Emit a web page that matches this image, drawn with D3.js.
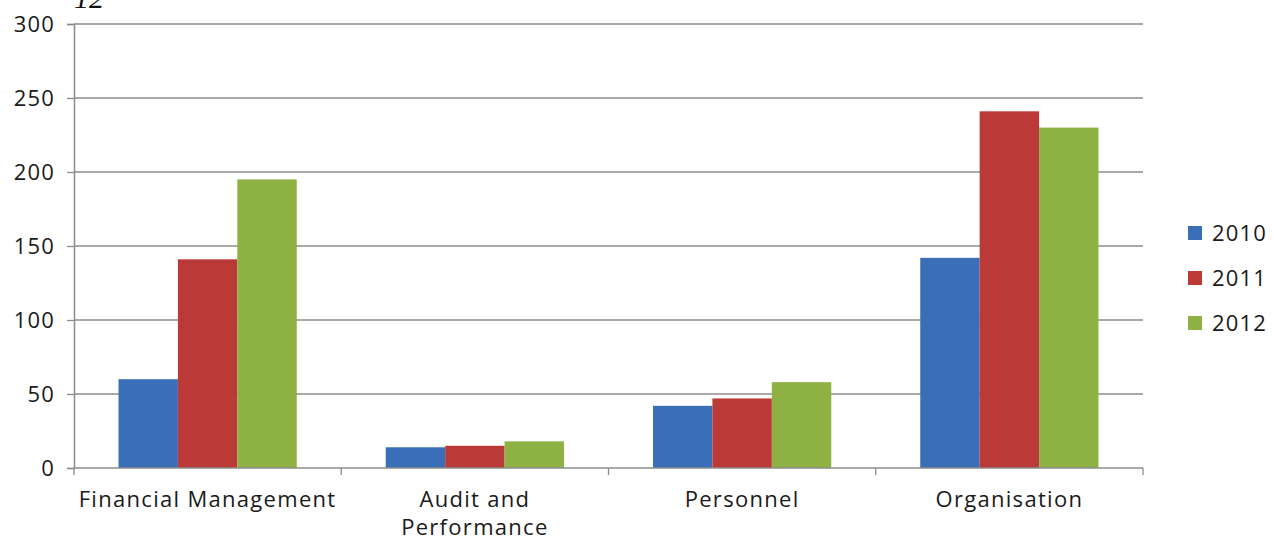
<!DOCTYPE html>
<html><head><meta charset="utf-8">
<script src="https://cdnjs.cloudflare.com/ajax/libs/d3/7.8.5/d3.min.js"></script>
<style>body{margin:0;background:#fff}svg{display:block}</style>
</head><body>
<svg id="c" width="1273" height="540"></svg>
<script>
const categories = ["Financial Management", "Audit and Performance", "Personnel", "Organisation"];
const categoryLines = [["Financial Management"], ["Audit and", "Performance"], ["Personnel"], ["Organisation"]];
const seriesNames = ["2010", "2011", "2012"];
const values2010 = [60, 14, 42, 142];
const values2011 = [141, 15, 47, 241];
const values2012 = [195, 18, 58, 230];
const yTicks = [0, 50, 100, 150, 200, 250, 300];
const colors = ["#3a6fb7", "#bb3936", "#8db243"];
const series = [values2010, values2011, values2012];

const svg = d3.select("#c");
const m = {l: 74, r: 1143, t: 24, b: 468};
const font = "'Open Sans', sans-serif";
const txt = "#1a1a1a";

svg.append("text").attr("x", 74).attr("y", 8)
  .attr("font-family", "'Liberation Serif', serif").attr("font-style", "italic")
  .attr("font-size", 30).attr("fill", "#111").text("12");

const x0 = d3.scaleBand().domain(categories).range([m.l, m.r]).paddingInner(0.333).paddingOuter(0.1665);
const xOuter = d3.scaleBand().domain(categories).range([m.l, m.r]);
const x1 = d3.scaleBand().domain(seriesNames).range([0, x0.bandwidth()]);
const y = d3.scaleLinear().domain([0, 300]).range([m.b, m.t]);

// gridlines
svg.append("g").selectAll("line").data(yTicks.filter(d => d > 0)).join("line")
  .attr("x1", m.l).attr("x2", m.r).attr("y1", d => y(d)).attr("y2", d => y(d))
  .attr("stroke", "#8c8c8c").attr("stroke-width", 1.3);

// bars
series.forEach((vals, si) => {
  svg.append("g").selectAll("rect").data(vals).join("rect")
    .attr("x", (d, i) => x0(categories[i]) + x1(seriesNames[si]))
    .attr("width", x1.bandwidth())
    .attr("y", d => y(d)).attr("height", d => y(0) - y(d))
    .attr("fill", colors[si]);
});

// y axis
const yAxis = d3.axisLeft(y).tickValues(yTicks).tickSize(7).tickPadding(12);
const gy = svg.append("g").attr("transform", `translate(${m.l},0)`).call(yAxis);
gy.select(".domain").attr("stroke", "#8c8c8c").attr("stroke-width", 1.5);
gy.selectAll(".tick line").attr("stroke", "#8c8c8c").attr("stroke-width", 1.3);
gy.selectAll(".tick text").attr("font-family", font).attr("font-size", 22)
  .attr("letter-spacing", "1.2px").attr("fill", txt);

// x axis
const gx = svg.append("g").attr("transform", `translate(0,${m.b})`);
gx.append("line").attr("x1", m.l).attr("x2", m.r).attr("y1", 0).attr("y2", 0)
  .attr("stroke", "#8c8c8c").attr("stroke-width", 1.5);
const bounds = categories.map(c => xOuter(c)).concat([m.r]);
gx.selectAll("line.tk").data(bounds).join("line").attr("class", "tk")
  .attr("x1", d => d).attr("x2", d => d).attr("y1", 0).attr("y2", 7)
  .attr("stroke", "#8c8c8c").attr("stroke-width", 1.3);
categories.forEach((c, i) => {
  const cx = x0(c) + x0.bandwidth() / 2;
  const t = gx.append("text").attr("x", cx).attr("y", 39)
    .attr("text-anchor", "middle").attr("font-family", font).attr("font-size", 22)
    .attr("letter-spacing", "1.3px").attr("fill", txt);
  categoryLines[i].forEach((ln, j) => t.append("tspan").attr("x", cx).attr("dy", j ? 28 : 0).text(ln));
});

// legend
const lg = svg.append("g");
seriesNames.forEach((s, i) => {
  const yy = 233 + i * 45;
  lg.append("rect").attr("x", 1188).attr("y", yy - 7).attr("width", 14).attr("height", 14).attr("fill", colors[i]);
  lg.append("text").attr("x", 1212).attr("y", yy).attr("dy", "0.35em")
    .attr("font-family", font).attr("font-size", 22).attr("letter-spacing", "1.2px")
    .attr("fill", txt).text(s);
});
</script>
</body></html>
